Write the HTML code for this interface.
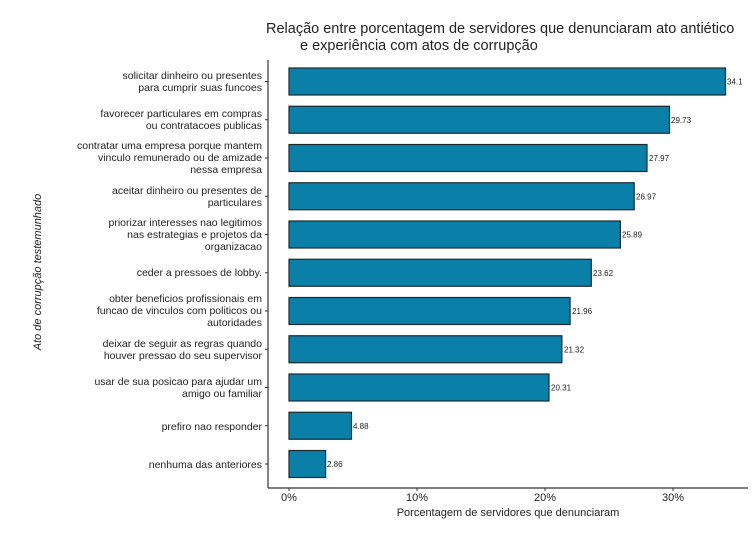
<!DOCTYPE html>
<html><head><meta charset="utf-8"><style>
body{margin:0;background:#fff;}
svg text{font-family:"Liberation Sans",sans-serif;fill:#222;}
</style></head><body>
<svg width="754" height="528" xmlns="http://www.w3.org/2000/svg">
<text x="266" y="33" font-size="14.5">Relação entre porcentagem de servidores que denunciaram ato antiético</text>
<text x="300" y="50" font-size="14.5">e experiência com atos de corrupção</text>
<line x1="268" y1="60" x2="268" y2="488" stroke="#333" stroke-width="1.2"/>
<line x1="268" y1="488" x2="748" y2="488" stroke="#333" stroke-width="1.2"/>
<g fill="#0a80a8" stroke="#1a2a30" stroke-width="1.2">
<rect x="289" y="68" width="436.5" height="27"/>
<rect x="289" y="106.25" width="380.5" height="27"/>
<rect x="289" y="144.5" width="358" height="27"/>
<rect x="289" y="182.75" width="345.2" height="27"/>
<rect x="289" y="221" width="331.4" height="27"/>
<rect x="289" y="259.25" width="302.3" height="27"/>
<rect x="289" y="297.5" width="281.1" height="27"/>
<rect x="289" y="335.75" width="272.9" height="27"/>
<rect x="289" y="374" width="260" height="27"/>
<rect x="289" y="412.25" width="62.5" height="27"/>
<rect x="289" y="450.5" width="36.6" height="27"/>
</g>
<g font-size="8" fill="#333">
<text x="727" y="84.5">34.1</text>
<text x="671" y="122.8">29.73</text>
<text x="649" y="161">27.97</text>
<text x="636" y="199.3">26.97</text>
<text x="622" y="237.5">25.89</text>
<text x="593" y="275.8">23.62</text>
<text x="572" y="314">21.96</text>
<text x="564" y="352.3">21.32</text>
<text x="551" y="390.5">20.31</text>
<text x="353" y="428.8">4.88</text>
<text x="327" y="467">2.86</text>
</g>
<g font-size="10.5" text-anchor="end">
<text x="262" y="79">solicitar dinheiro ou presentes</text>
<text x="262" y="91">para cumprir suas funcoes</text>
<text x="262" y="117">favorecer particulares em compras</text>
<text x="262" y="129">ou contratacoes publicas</text>
<text x="262" y="149">contratar uma empresa porque mantem</text>
<text x="262" y="161">vinculo remunerado ou de amizade</text>
<text x="262" y="173">nessa empresa</text>
<text x="262" y="194">aceitar dinheiro ou presentes de</text>
<text x="262" y="206">particulares</text>
<text x="262" y="226">priorizar interesses nao legitimos</text>
<text x="262" y="238">nas estrategias e projetos da</text>
<text x="262" y="250">organizacao</text>
<text x="262" y="276">ceder a pressoes de lobby.</text>
<text x="262" y="302">obter beneficios profissionais em</text>
<text x="262" y="314">funcao de vinculos com politicos ou</text>
<text x="262" y="326">autoridades</text>
<text x="262" y="347">deixar de seguir as regras quando</text>
<text x="262" y="359">houver pressao do seu supervisor</text>
<text x="262" y="385">usar de sua posicao para ajudar um</text>
<text x="262" y="397">amigo ou familiar</text>
<text x="262" y="430">prefiro nao responder</text>
<text x="262" y="468">nenhuma das anteriores</text>
</g>
<g stroke="#333">
<line x1="265" y1="81.5" x2="268" y2="81.5"/><line x1="265" y1="119.75" x2="268" y2="119.75"/>
<line x1="265" y1="158" x2="268" y2="158"/><line x1="265" y1="196.25" x2="268" y2="196.25"/>
<line x1="265" y1="234.5" x2="268" y2="234.5"/><line x1="265" y1="272.75" x2="268" y2="272.75"/>
<line x1="265" y1="311" x2="268" y2="311"/><line x1="265" y1="349.25" x2="268" y2="349.25"/>
<line x1="265" y1="387.5" x2="268" y2="387.5"/><line x1="265" y1="425.75" x2="268" y2="425.75"/>
<line x1="265" y1="464" x2="268" y2="464"/>
<line x1="289" y1="488" x2="289" y2="491"/><line x1="417" y1="488" x2="417" y2="491"/>
<line x1="545" y1="488" x2="545" y2="491"/><line x1="673" y1="488" x2="673" y2="491"/>
</g>
<g font-size="11" text-anchor="middle" fill="#444">
<text x="289" y="501">0%</text><text x="417" y="501">10%</text>
<text x="545" y="501">20%</text><text x="673" y="501">30%</text>
</g>
<text x="508" y="516" font-size="11" text-anchor="middle">Porcentagem de servidores que denunciaram</text>
<text transform="translate(41,272) rotate(-90)" font-size="11" font-style="italic" text-anchor="middle">Ato de corrupção testemunhado</text>
</svg>
</body></html>
